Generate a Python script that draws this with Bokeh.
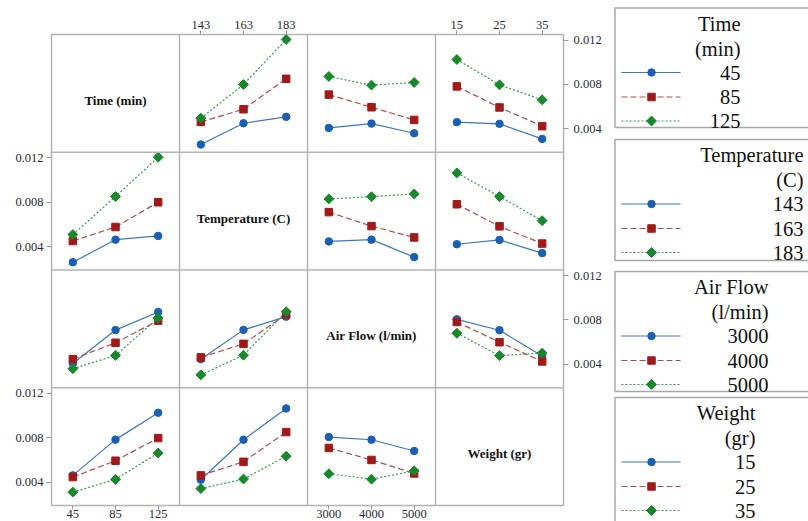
import numpy as np
from bokeh.plotting import figure
from bokeh.models import Range1d, LinearAxis, FixedTicker, Span
from bokeh.layouts import row
from bokeh.embed import file_html
from bokeh.resources import INLINE
from bokeh.core.properties import value

# ---------------- data ----------------
factor_names = ["Time (min)", "Temperature (C)", "Air Flow (l/min)", "Weight (gr)"]
legend_titles = [["Time", "(min)"], ["Temperature", "(C)"], ["Air Flow", "(l/min)"], ["Weight", "(gr)"]]
time_levels = [45, 85, 125]
temp_levels = [143, 163, 183]
air_levels = [3000, 4000, 5000]
weight_levels = [15, 25, 35]
levels = [time_levels, temp_levels, air_levels, weight_levels]

# interaction means: rows = levels of first factor, cols = levels of second factor
time_temp = [[0.00260, 0.00451, 0.00509],
             [0.00463, 0.00577, 0.00851],
             [0.00497, 0.00800, 0.01205]]
time_air = [[0.00409, 0.00448, 0.00361],
            [0.00709, 0.00595, 0.00481],
            [0.00872, 0.00794, 0.00818]]
time_weight = [[0.00461, 0.00446, 0.00310],
               [0.00783, 0.00593, 0.00425],
               [0.01025, 0.00797, 0.00662]]
temp_air = [[0.00447, 0.00463, 0.00306],
            [0.00711, 0.00585, 0.00483],
            [0.00830, 0.00850, 0.00875]]
temp_weight = [[0.00422, 0.00461, 0.00342],
               [0.00782, 0.00583, 0.00428],
               [0.01064, 0.00851, 0.00634]]
air_weight = [[0.00806, 0.00708, 0.00476],
              [0.00782, 0.00600, 0.00427],
              [0.00681, 0.00479, 0.00502]]
pair_tables = {(0, 1): time_temp, (0, 2): time_air, (0, 3): time_weight,
               (1, 2): temp_air, (1, 3): temp_weight, (2, 3): air_weight}

y_ticks = [0.004, 0.008, 0.012]
y_tick_labels = ["0.004", "0.008", "0.012"]
y_min, y_max = 0.0019, 0.0125

# ---------------- style ----------------
colors = ["#1a5fb4", "#a01a1a", "#17892b"]
line_colors = ["#3b76c4", "#b84a4a", "#3a9a4a"]
dashes = ["solid", "6 3", "2 2"]
grid_col = "#b4b4b4"
serif = "Liberation Serif"

TOP, BOTTOM = 34, 16          # borders of the matrix figure (px)
FIG_H = 521

def marker_style(k):
    if k == 0:
        return dict(marker="circle", size=7.5, color=colors[0])
    if k == 1:
        return dict(marker="square", size=7.5, color=colors[1])
    return dict(marker="square", angle=np.pi / 4, size=7, color=colors[2])

# ---------------- main matrix ----------------
H = y_max - y_min
p = figure(width=613, height=FIG_H, output_backend="svg", toolbar_location=None,
           x_range=Range1d(-0.5, 11.5), y_range=Range1d(0, 4),
           min_border_left=51, min_border_right=50, min_border_top=TOP, min_border_bottom=BOTTOM,
           x_axis_location=None, y_axis_location=None)
p.frame_align = False
p.grid.visible = False
p.outline_line_color = grid_col
p.outline_line_width = 1.5
p.background_fill_color = "white"
p.border_fill_color = "white"

for c in range(4):
    L = levels[c]
    s = L[1] - L[0]
    start = L[0] - s / 2 - c * 3 * s
    p.extra_x_ranges[f"c{c}"] = Range1d(start, start + 12 * s)
for r in range(4):
    start = y_min - (3 - r) * H
    p.extra_y_ranges[f"r{r}"] = Range1d(start, start + 4 * H)

for k in (1, 2, 3):
    p.add_layout(Span(location=3 * k - 0.5, dimension="height", line_color=grid_col, line_width=1.5))
    p.add_layout(Span(location=k, dimension="width", line_color=grid_col, line_width=1.5))

def val(r, c, a, b):
    if r < c:
        return pair_tables[(r, c)][a][b]
    return pair_tables[(c, r)][b][a]

for r in range(4):
    for c in range(4):
        if r == c:
            continue
        for a in range(3):
            xs = levels[c]
            ys = [val(r, c, a, b) for b in range(3)]
            kw = dict(x_range_name=f"c{c}", y_range_name=f"r{r}")
            p.line(xs, ys, line_color=line_colors[a], line_dash=dashes[a], line_width=1.2, **kw)
            p.scatter(xs, ys, **marker_style(a), **kw)

# diagonal labels
p.text(x=[3 * i + 1 for i in range(4)], y=[(3 - i) + 0.5 for i in range(4)], text=factor_names,
       text_align="center", text_baseline="middle", y_offset=7,
       text_font=value(serif), text_font_style="bold", text_font_size="13px", text_color="#111111")

def style_axis(ax):
    ax.axis_line_color = None
    ax.major_tick_in = 0
    ax.major_tick_out = 4
    ax.major_tick_line_color = "#999999"
    ax.minor_tick_line_color = None
    ax.major_label_text_font = serif
    ax.major_label_text_font_size = "12.5px"
    ax.major_label_text_color = "#2b2b35"
    ax.major_label_standoff = 2

def x_axis(cols, loc):
    ticks, over = [], {}
    for c in cols:
        for k, lv in enumerate(levels[c]):
            t = 3 * c + k
            ticks.append(t)
            over[t] = str(lv)
    ax = LinearAxis(ticker=FixedTicker(ticks=ticks), major_label_overrides=over)
    style_axis(ax)
    if loc == "below":
        ax.major_label_standoff = 0
    p.add_layout(ax, loc)

def y_axis(rows, loc):
    ticks, over = [], {}
    for r in rows:
        for v, lab in zip(y_ticks, y_tick_labels):
            t = round((3 - r) + (v - y_min) / H, 6)
            ticks.append(t)
            over[t] = lab
    ax = LinearAxis(ticker=FixedTicker(ticks=ticks), major_label_overrides=over)
    style_axis(ax)
    ax.major_tick_out = 5
    ax.major_label_standoff = 3 if loc == "left" else 5
    ax.major_label_orientation = "horizontal"
    p.add_layout(ax, loc)

x_axis([1, 3], "above")
x_axis([0, 2], "below")
y_axis([1, 3], "left")
y_axis([0, 2], "right")

# ---------------- legends ----------------
lg = figure(width=195, height=FIG_H, output_backend="svg", toolbar_location=None,
            x_range=Range1d(613, 808), y_range=Range1d(FIG_H, 0),
            min_border=0, x_axis_location=None, y_axis_location=None)
lg.frame_align = False
lg.grid.visible = False
lg.outline_line_color = None
lg.border_fill_color = "white"

box_tops = [7.5, 139, 271, 397]
box_bottoms = [127, 260, 391, 540]
text_right = [740, 803, 768, 755]
offsets = [15.5, 40.5, 64.5, 89, 113]
lg.quad(left=614.5, right=830, top=box_tops, bottom=box_bottoms,
        fill_color="white", line_color="#a8a8a8", line_width=1.5)
for i in range(4):
    top = box_tops[i]
    lab = legend_titles[i] + [str(v) for v in levels[i]]
    ys = [top + o for o in offsets]
    lg.text(x=[text_right[i]] * 5, y=ys, text=lab, text_align="right", text_baseline="middle",
            text_font=value(serif), text_font_size="20.5px", text_color="#111111")
    for a in range(3):
        yy = ys[2 + a]
        lg.line([621, 680], [yy, yy], line_color=line_colors[a], line_dash=dashes[a], line_width=1.2)
        lg.scatter([651], [yy], **marker_style(a))

layout = row(p, lg)
open("out.html", "w").write(file_html(layout, INLINE))
